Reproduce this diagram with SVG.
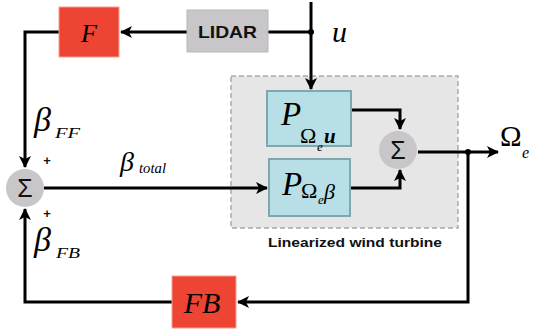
<svg xmlns="http://www.w3.org/2000/svg" width="535" height="335" viewBox="0 0 535 335">
<style>
.ln{fill:none;stroke:#000;stroke-width:3;stroke-linejoin:miter}
.red{fill:#EE4433;stroke:#F6A090;stroke-width:1}
.gray{fill:#C8C6C9;stroke:#B8B6B9;stroke-width:1}
.blue{fill:#B7DFE5;stroke:#7FA8AE;stroke-width:2}
.sum{fill:#C8C6C9}
.m{font-family:"Liberation Serif","DejaVu Serif",serif;font-style:italic;fill:#000}
.up{font-family:"Liberation Serif","DejaVu Serif",serif;font-style:normal;fill:#000}
.sg{font-family:"Liberation Sans","DejaVu Sans",sans-serif;font-size:25px;fill:#111}
.b{font-family:"Liberation Sans",Arial,sans-serif;font-weight:bold;fill:#111}
</style>
<defs>
<marker id="ah" viewBox="0 0 12 12" refX="11" refY="6" markerWidth="12" markerHeight="12" markerUnits="userSpaceOnUse" orient="auto">
<path d="M0,0 L12,6 L0,12 L3,6 z" fill="#000"/>
</marker>
</defs>
<rect width="535" height="335" fill="#fff"/>
<g id="turbine">
<rect x="231" y="76" width="227" height="152" fill="#E6E6E6" stroke="#AAAAAA" stroke-width="1.5" stroke-dasharray="5,3"/>
<text class="b" x="355" y="247" font-size="13" text-anchor="middle" textLength="174" lengthAdjust="spacingAndGlyphs">Linearized wind turbine</text>
</g>
<g id="connectors">
<path class="ln" d="M311,2 V89" marker-end="url(#ah)"/>
<path class="ln" d="M268,32 H311"/>
<path class="ln" d="M187,32 H121" marker-end="url(#ah)"/>
<path class="ln" d="M59,32 H25 V167" marker-end="url(#ah)"/>
<path class="ln" d="M44,188 H267" marker-end="url(#ah)"/>
<path class="ln" d="M352,110 H400 V129" marker-end="url(#ah)"/>
<path class="ln" d="M350,188 H400 V170" marker-end="url(#ah)"/>
<path class="ln" d="M418,152 H498" marker-end="url(#ah)"/>
<path class="ln" d="M468,152 V302 H238" marker-end="url(#ah)"/>
<path class="ln" d="M172,302 H25 V209" marker-end="url(#ah)"/>
<circle cx="311" cy="32" r="3" fill="#000"/>
<circle cx="468" cy="152" r="3" fill="#000"/>
</g>
<g id="F">
<rect class="red" x="59" y="7" width="60" height="50"/>
<text class="m" x="89" y="42" font-size="26" text-anchor="middle">F</text>
</g>
<g id="LIDAR">
<rect class="gray" x="187" y="10" width="81" height="42"/>
<text class="b" x="227.5" y="38" font-size="17" text-anchor="middle" textLength="59" lengthAdjust="spacingAndGlyphs">LIDAR</text>
</g>
<g id="u-label">
<text class="m" x="332" y="42" font-size="30">u</text>
</g>
<g id="sum1">
<circle class="sum" cx="25" cy="188" r="19"/>
<text class="sg" x="25" y="197" text-anchor="middle">&#931;</text>
<text class="b" x="47" y="165" font-size="13" text-anchor="middle">+</text>
<text class="b" x="47" y="218" font-size="13" text-anchor="middle">+</text>
</g>
<g id="beta-ff">
<text class="m" x="34" y="131" font-size="34">&#946;</text>
<text class="m" x="55" y="138" font-size="14" textLength="25" lengthAdjust="spacingAndGlyphs">FF</text>
</g>
<g id="beta-fb">
<text class="m" x="34" y="251" font-size="34">&#946;</text>
<text class="m" x="56" y="258" font-size="14" textLength="24" lengthAdjust="spacingAndGlyphs">FB</text>
</g>
<g id="beta-total">
<text class="m" x="120" y="171" font-size="28">&#946;</text>
<text class="m" x="139" y="173" font-size="15" textLength="27" lengthAdjust="spacingAndGlyphs">total</text>
</g>
<g id="P-u">
<rect class="blue" x="267" y="91" width="84" height="55"/>
<text class="m" x="281" y="125" font-size="33">P</text>
<text class="up" x="300" y="143" font-size="22">&#937;</text>
<text class="m" x="317" y="151" font-size="13">e</text>
<text class="m" x="324" y="143" font-size="21" font-weight="bold">u</text>
</g>
<g id="P-beta">
<rect class="blue" x="269" y="159" width="81" height="57"/>
<text class="m" x="282" y="195" font-size="33">P</text>
<text class="up" x="301" y="198" font-size="22">&#937;</text>
<text class="m" x="318" y="204" font-size="13">e</text>
<text class="m" x="324" y="199" font-size="22">&#946;</text>
</g>
<g id="sum2">
<circle class="sum" cx="398" cy="150" r="19"/>
<text class="sg" x="398" y="159" text-anchor="middle">&#931;</text>
</g>
<g id="omega-out">
<text class="up" x="500" y="146" font-size="29">&#937;</text>
<text class="m" x="522" y="158" font-size="16">e</text>
</g>
<g id="FB">
<rect class="red" x="172" y="276" width="64" height="52"/>
<text class="m" x="202" y="313" font-size="30" text-anchor="middle">FB</text>
</g>
</svg>
